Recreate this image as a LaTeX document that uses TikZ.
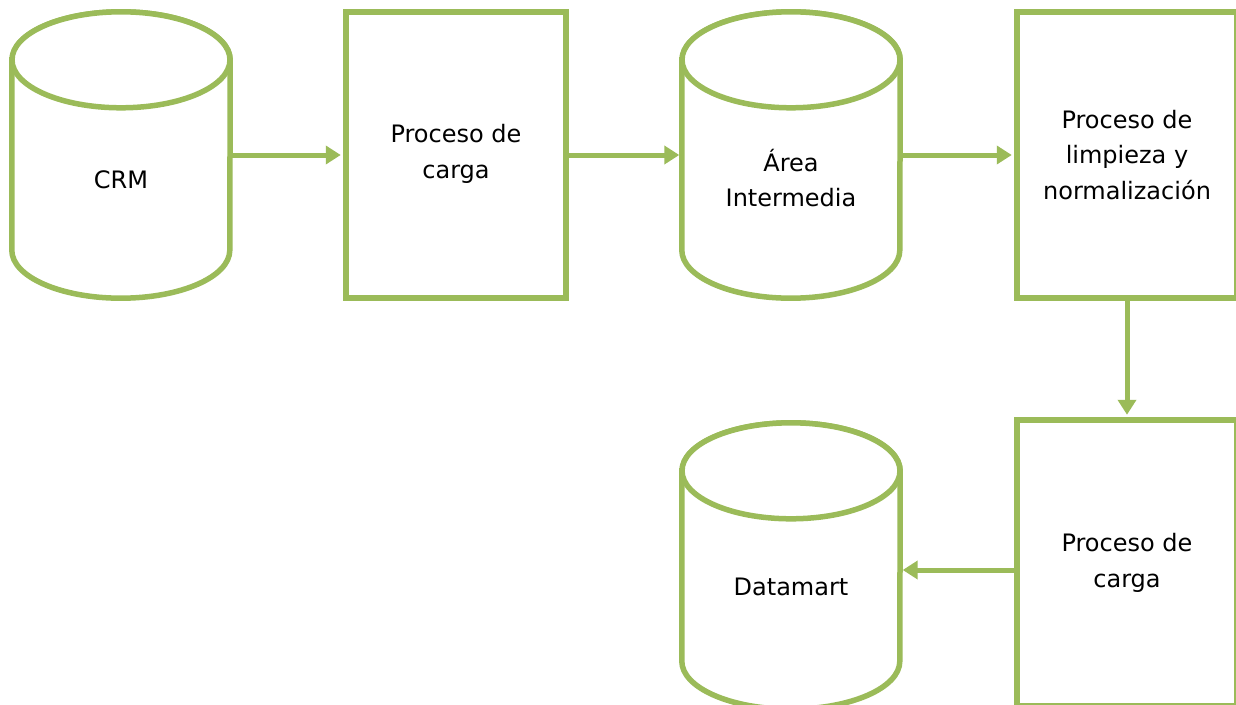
\documentclass[tikz,border=0pt]{standalone}
\usepackage{fontspec}
\setmainfont{DejaVu Sans}
\usetikzlibrary{arrows.meta,calc}
\definecolor{ogreen}{HTML}{9BBB59}
\newcommand\cylshape[1]{%
  \draw[cylline] ($(#1.north west)+(0,-48)$) -- ($(#1.south west)+(0,48)$)
    arc[start angle=180,end angle=360,x radius=109pt,y radius=48pt]
    -- ($(#1.north east)+(0,-48)$)
    arc[start angle=0,end angle=180,x radius=109pt,y radius=48pt] -- cycle;
  \draw[cylline] ($(#1.north)+(0,-48)$) ellipse[x radius=109pt,y radius=48pt];
}
\begin{document}
\begin{tikzpicture}[x=1pt,y=1pt,
  box/.style={draw=ogreen,line width=5.5pt,fill=white,minimum width=220pt,minimum height=286pt,inner sep=0pt},
  cylbox/.style={minimum width=218pt,minimum height=286pt,inner sep=0pt},
  cylline/.style={draw=ogreen,line width=5.5pt,fill=white},
  lbl/.style={align=center,font=\fontsize{24}{35.5}\selectfont,inner sep=0pt},
  arr/.style={draw=ogreen,line width=5pt,shorten >=2.5pt,-{Triangle[length=15pt,width=18pt]}}]
\useasboundingbox (0,0) rectangle (1236,-704);
\clip (0,0) rectangle (1236,-704);
\fill[white] (0,0) rectangle (1236,-704);
% shapes
\node[cylbox] (crm) at (121,-155) {};
\cylshape{crm}
\node[box] (p1) at (456,-155) {};
\node[cylbox] (ai) at (791,-155) {};
\cylshape{ai}
\node[box] (p2) at (1127,-155) {};
\node[box] (p3) at (1127,-563) {};
\node[cylbox] (dm) at (791,-566) {};
\cylshape{dm}
% texts
\node[lbl] (crmt) at (121,-180) {CRM};
\node[lbl] (p1t) at (456,-154) {Proceso de\\carga};
\node[lbl] (ait) at (791,-178) {Área\\Intermedia};
\node[lbl] (p2t) at (1127,-155) {Proceso de\\limpieza y\\normalización};
\node[lbl] (p3t) at (1127,-563) {Proceso de\\carga};
\node[lbl] (dmt) at (791,-587) {Datamart};
% connectors
\draw[arr] (crm.east) -- (p1.west);
\draw[arr] (p1.east) -- (ai.west);
\draw[arr] (ai.east) -- (p2.west);
\draw[arr] (p2.south) -- (p3.north);
\draw[arr] ([yshift=-7pt]p3.west) -- ([yshift=-4pt]dm.east);
\end{tikzpicture}
\end{document}
